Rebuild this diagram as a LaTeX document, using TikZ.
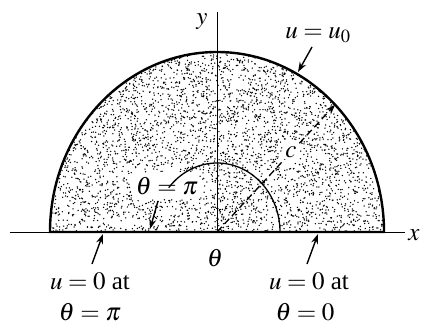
\documentclass[tikz,border=0pt]{standalone}
\usepackage{mathptmx}
\usepackage{fontspec}
\setmainfont{Liberation Serif}
\usetikzlibrary{arrows.meta}
\tikzset{
  lbl/.style={font=\fontsize{25}{29}\selectfont, inner sep=0pt},
  ptr/.style={line width=1.4pt, -{Stealth[length=10pt,width=7pt]}},
}
\begin{document}
\begin{tikzpicture}[x=1pt,y=1pt]
\useasboundingbox (0,0) rectangle (425,325);
\coordinate (O) at (217,93);
% stipple
\begin{scope}
\clip (50,93) arc[start angle=180,end angle=0,x radius=167,y radius=180] -- cycle;
\pgfmathsetseed{7}
\foreach \i in {1,...,3600}{
  \pgfmathsetmacro\aa{rnd*180}
  \pgfmathsetmacro\rr{sqrt(rnd)}
  \pgfmathsetmacro\px{217+167*\rr*cos(\aa)}
  \pgfmathsetmacro\py{93+180*\rr*sin(\aa)}
  \pgfmathtruncatemacro\skipit{((\px>134)&&(\px<200)&&(\py>126)&&(\py<153))||((\px>282)&&(\px<300)&&(\py>162)&&(\py<185)) ? 1 : 0}
  \ifnum\skipit=0
    \fill (\px,\py) circle (0.75);
  \fi
}
\end{scope}
% axes
\coordinate (xl) at (10,93);
\coordinate (xr) at (405,93);
\coordinate (yt) at (217,313);
\draw[line width=1pt] (xl) -- (xr);
\draw[line width=1pt] (O) -- (yt);
\node[lbl] (xlab) at (414,90) {$x$};
\node[lbl] (ylab) at (202,303) {$y$};
% boundary
\draw[line width=2.4pt] (50,93) arc[start angle=180,end angle=0,x radius=167,y radius=180] -- cycle;
% inner arc
\draw[line width=1.3pt] (280,93) arc[start angle=0,end angle=140,x radius=63,y radius=69];
% radius c
\coordinate (cend) at ({217+167*cos(45)},{93+180*sin(45)});
\draw[line width=1.3pt, dash pattern=on 7pt off 4pt, -{Stealth[length=10pt,width=7pt]}] (O) -- (cend);
\node[lbl, fill=white, inner sep=1.5pt] (clab) at (291,173) {$c$};
\node[lbl] (theta) at (215,67) {$\theta$};
\node[lbl] (thpi) at (167,139) {$\theta=\pi$};
\coordinate (thpiT) at (150,96);
\draw[ptr] (158,124) -- (thpiT);
% u = u0
\node[lbl] (u0) at (318,290) {$u=u_0$};
\coordinate (u0T) at (298,253);
\draw[ptr] (312,278) -- (u0T);
% bottom left
\node[lbl] (bl1) at (90,44) {$u=0$ at};
\node[lbl] (bl2) at (90,13) {$\theta=\pi$};
\coordinate (blT) at (103,91);
\draw[ptr] (92,61) -- (blT);
% bottom right
\node[lbl] (br1) at (309,44) {$u=0$ at};
\node[lbl] (br2) at (305,13) {$\theta=0$};
\coordinate (brT) at (318,91);
\draw[ptr] (307,61) -- (brT);
\end{tikzpicture}
\end{document}
